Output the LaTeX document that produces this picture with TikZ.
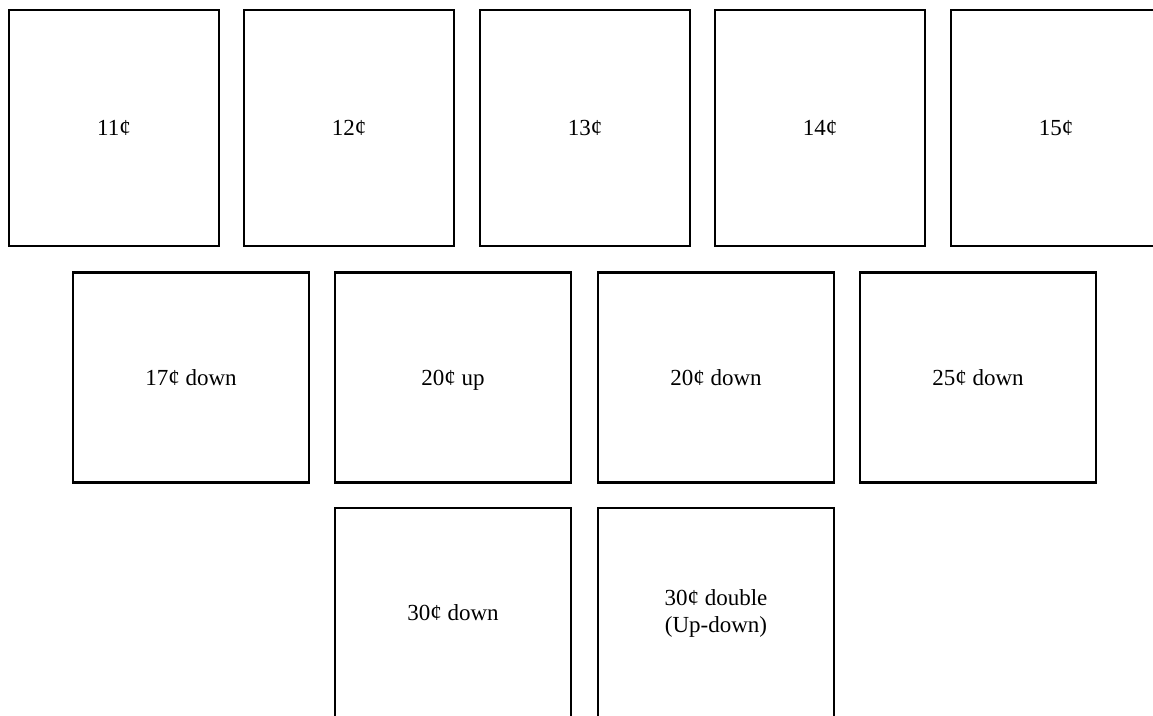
\documentclass[tikz,border=0pt]{standalone}
\usepackage{fontspec}
\setmainfont{Liberation Serif}
\usepackage{tikz}

\tikzset{
  stamp/.style={draw, line width=2.4pt, inner sep=0pt, align=center,
    font=\fontsize{23}{27}\selectfont},
  smallstamp/.style={stamp, minimum width=210pt, minimum height=236pt},
  widestamp/.style={stamp, minimum width=236pt, minimum height=210pt}
}

\begin{document}
\begin{tikzpicture}[x=1pt, y=-1pt]
    \useasboundingbox (0, 0) rectangle (1153, 715);
    \clip (0, 0) rectangle (1153, 715);

    % Top row
    \node[smallstamp] (s11) at (114, 128) {11¢};
    \node[smallstamp] (s12) at (349, 128) {12¢};
    \node[smallstamp] (s13) at (585, 128) {13¢};
    \node[smallstamp] (s14) at (820, 128) {14¢};
    \node[smallstamp] (s15) at (1056, 128) {15¢};

    % Middle row
    \node[widestamp] (s17d) at (191, 377.5) {17¢ down};
    \node[widestamp, text depth=0pt] (s20u) at (453, 377.5) {20¢ up};
    \node[widestamp] (s20d) at (716, 377.5) {20¢ down};
    \node[widestamp] (s25d) at (978, 377.5) {25¢ down};

    % Bottom row
    \node[widestamp] (s30d) at (453, 613) {30¢ down};
    \node[widestamp] (s30dbl) at (716, 613) {30¢ double\\(Up-down)};
\end{tikzpicture}
\end{document}
